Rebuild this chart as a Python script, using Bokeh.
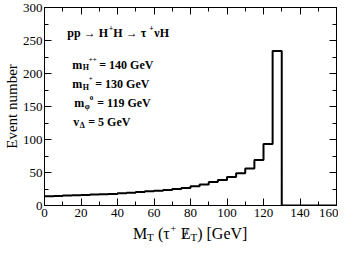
from bokeh.plotting import figure
from bokeh.models import Range1d, LinearAxis, Label, SingleIntervalTicker
from bokeh.layouts import column
from bokeh.embed import file_html
from bokeh.resources import INLINE

# ---- data ----
bin_left = [0, 5, 10, 15, 20, 25, 30, 35, 40, 45, 50, 55, 60, 65, 70,
            75, 80, 85, 90, 95, 100, 105, 110, 115, 120, 125]
events = [14, 14.5, 15, 15.5, 16, 16.5, 17, 17.5, 18.5, 19.5, 20.5, 21.5, 22.5, 23.5, 25,
          26.5, 29, 32, 35.5, 38.5, 43, 49, 56, 69, 93, 234]
bin_width = 5
x_range = (0, 160)
y_range = (0, 300)

FONT = "Liberation Serif"
W = 338
H_MAIN = 223
H_XLAB = 20

p = figure(width=W, height=H_MAIN, output_backend="svg", toolbar_location=None,
           x_range=Range1d(*x_range), y_range=Range1d(*y_range),
           min_border_left=38, min_border_right=2, min_border_top=7,
           min_border_bottom=18, x_axis_location=None, y_axis_location=None)
p.background_fill_color = "white"
p.border_fill_color = "white"
p.outline_line_color = "black"
p.outline_line_width = 1
p.xgrid.visible = False
p.ygrid.visible = False


def make_axis(interval, show_labels):
    ax = LinearAxis(ticker=SingleIntervalTicker(interval=interval, num_minor_ticks=2))
    ax.axis_line_color = "black"
    ax.major_tick_line_color = "black"
    ax.minor_tick_line_color = "black"
    ax.major_tick_in = 7
    ax.major_tick_out = 0
    ax.minor_tick_in = 4
    ax.minor_tick_out = 0
    ax.major_label_text_font = FONT
    ax.major_label_text_color = "black"
    ax.major_label_standoff = 2
    if show_labels:
        ax.major_label_text_font_size = "13px"
    else:
        ax.major_label_text_font_size = "0px"
        ax.major_label_text_color = None
        ax.major_label_standoff = 0
    return ax


xb = make_axis(20, True)
xb.major_label_standoff = 3
yl_ax = make_axis(50, True)
yl_ax.axis_label = "Event number"
yl_ax.axis_label_text_font = FONT
yl_ax.axis_label_text_font_size = "15px"
yl_ax.axis_label_text_font_style = "normal"
yl_ax.axis_label_text_color = "black"
yl_ax.axis_label_standoff = 0
p.add_layout(xb, "below")
p.add_layout(yl_ax, "left")
p.add_layout(make_axis(20, False), "above")
p.add_layout(make_axis(50, False), "right")

# histogram as step line
x_steps = bin_left + [bin_left[-1] + bin_width, x_range[1]]
y_steps = events + [0, 0]
p.step(x=x_steps, y=y_steps, mode="after", line_color="black", line_width=2)


def lab(fig, x, y, t, size, dx=0, style="bold", baseline="alphabetic"):
    fig.add_layout(Label(x=x, y=y, text=t, x_offset=dx, text_font=FONT,
                         text_font_size=f"{size}px", text_font_style=style,
                         text_color="black", text_align="left",
                         text_baseline=baseline))


SUB = -4.5
SUP = 7.5

# title reaction
tx, ty = 12.5, 261
lab(p, tx, ty, "pp \u2192 H", 12)
lab(p, tx, ty + SUP, "+", 8, dx=41.5)
lab(p, tx, ty, "H \u2192 \u03c4", 12, dx=46)
lab(p, tx, ty + SUP, "+", 8, dx=82)
lab(p, tx, ty, "\u03bdH", 12, dx=87)

# parameter lines
mx = 15.2
rows_y = [213, 184, 155, 126]
lab(p, mx, rows_y[0], "m", 12)
lab(p, mx, rows_y[0] + SUB, "H", 8, dx=10.5)
lab(p, mx, rows_y[0] + SUP, "++", 7, dx=16.5)
lab(p, mx, rows_y[0], "= 140 GeV", 12, dx=27)

lab(p, mx, rows_y[1], "m", 12)
lab(p, mx, rows_y[1] + SUB, "H", 8, dx=10.5)
lab(p, mx, rows_y[1] + SUP, "+", 7, dx=16.5)
lab(p, mx, rows_y[1], "= 130 GeV", 12, dx=23)

lab(p, mx, rows_y[2], "m", 12, dx=2)
lab(p, mx, rows_y[2] + SUB, "\u03c6", 8, dx=12.5)
lab(p, mx, rows_y[2] + SUP, "0", 7, dx=17.5)
lab(p, mx, rows_y[2], "= 119 GeV", 12, dx=25)

lab(p, mx, rows_y[3], "v", 12, dx=1)
lab(p, mx, rows_y[3] + SUB, "\u0394", 8, dx=7.5)
lab(p, mx, rows_y[3], "= 5 GeV", 12, dx=16)

# x axis label strip: M_T (tau^+ Emiss_T) [GeV]
q = figure(width=W, height=H_XLAB, output_backend="svg", toolbar_location=None,
           x_range=Range1d(*x_range), y_range=Range1d(0, H_XLAB),
           min_border=0, x_axis_location=None, y_axis_location=None)
q.outline_line_color = None
q.xgrid.visible = False
q.ygrid.visible = False
q.background_fill_color = "white"
q.border_fill_color = "white"

cx = (x_range[0] + x_range[1]) / 2
mid = 10
xs = 16
lab(q, cx, mid, "M", xs, dx=-57.6, style="normal", baseline="middle")
lab(q, cx, mid - 3.5, "T", 11, dx=-43.4, style="normal", baseline="middle")
lab(q, cx, mid, "(\u03c4", xs, dx=-32.6, style="normal", baseline="middle")
lab(q, cx, mid + 5.5, "+", 10, dx=-20, style="normal", baseline="middle")
lab(q, cx, mid, "E", xs, dx=-9.8, style="normal", baseline="middle")
lab(q, cx, mid, "/", xs, dx=-7, style="normal", baseline="middle")
lab(q, cx, mid - 3.5, "T", 11, dx=0, style="normal", baseline="middle")
lab(q, cx, mid, ") [GeV]", xs, dx=6.7, style="normal", baseline="middle")

layout = column(p, q, spacing=0)
open("out.html", "w").write(file_html(layout, INLINE))
